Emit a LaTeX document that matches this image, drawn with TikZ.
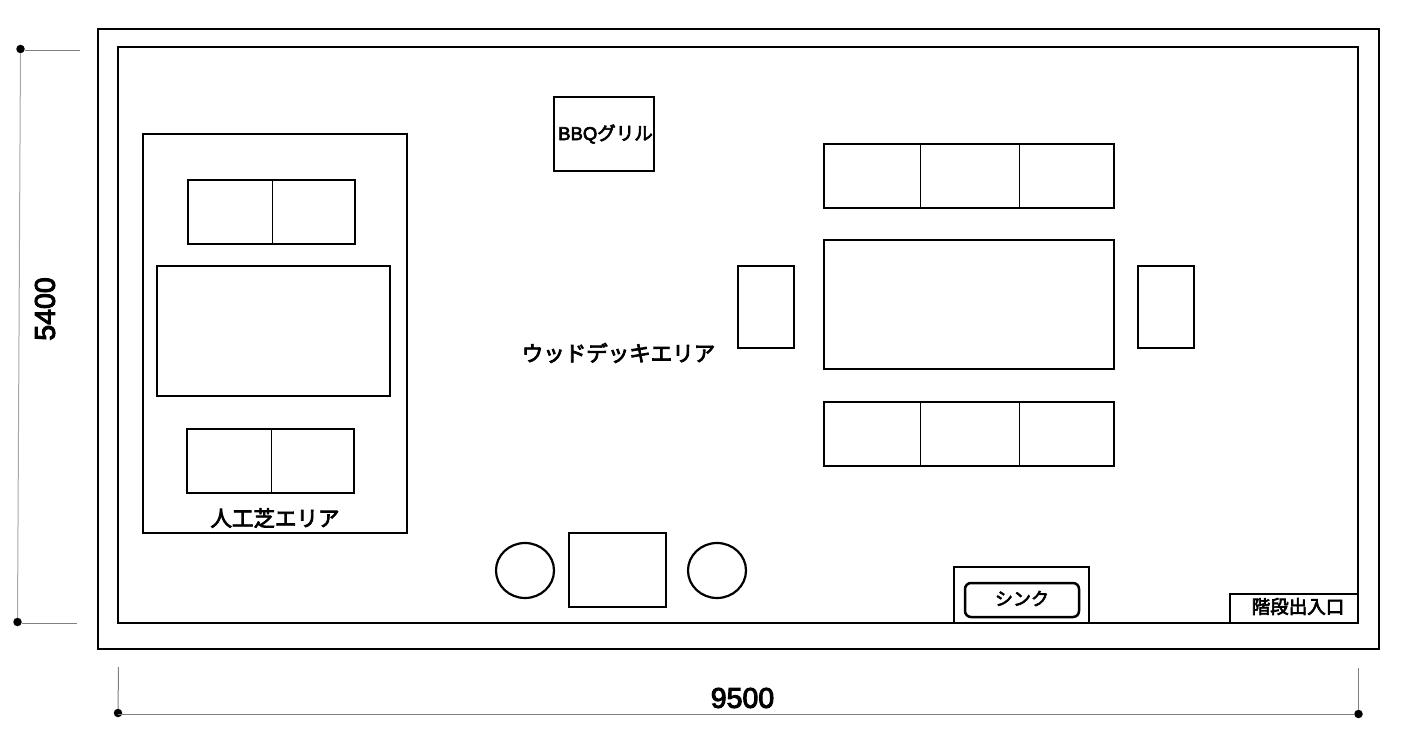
\documentclass[tikz,border=0pt]{standalone}
\usepackage{fontspec}
\usetikzlibrary{shapes.geometric}
\setmainfont{Liberation Sans}
\newfontfamily\cjk[FakeBold=3.5]{Noto Sans CJK JP}
\newfontfamily\lat[FakeBold=3.5]{Liberation Sans}
\tikzset{
  x=1pt,y=-1pt,
  plan/.style={draw=black,line width=2.5pt,fill=white,inner sep=0pt,outer sep=0pt,anchor=north west},
  thin line/.style={draw=black,line width=1pt},
  dimline/.style={draw=black!50,line width=1pt},
  dot/.style={circle,fill=black,inner sep=0pt,minimum size=8.5pt,outer sep=0pt},
  stool/.style={draw=black,line width=2.2pt,ellipse,minimum width=58pt,minimum height=55pt,inner sep=0pt,outer sep=0pt},
  jp/.style={font=\cjk\fontsize{#1}{#1}\selectfont,inner sep=0pt},
  dimtext/.style={font=\lat\fontsize{28.5}{28.5}\selectfont,inner sep=0pt}
}
\newcommand{\rbox}[6][]{\node[plan,#1,minimum width=#4pt-#2pt,minimum height=#5pt-#3pt] (#6) at (#2,#3) {};}
\begin{document}
\begin{tikzpicture}
\useasboundingbox (0,0) rectangle (1402,746);
\rbox{98}{29}{1379}{649}{outer}
\rbox{118}{47}{1358}{623}{inner}
% lawn area
\rbox{143}{134}{407}{533}{lawn}
\rbox{188}{180}{355}{244}{benchA}
\coordinate (a1) at (272.5,180); \coordinate (a2) at (272.5,244);
\draw[thin line] (a1) -- (a2);
\rbox{157}{266}{390}{396}{tableA}
\rbox{187}{429}{354}{493}{benchB}
\coordinate (b1) at (271.5,429); \coordinate (b2) at (271.5,493);
\draw[thin line] (b1) -- (b2);
\node[jp=21.5] (lawnlabel) at (275,518) {人工芝エリア};
% grill
\rbox{554}{97}{654}{171}{grill}
\node[jp=18.5] (grilllabel) at (605.5,134) {{\lat BBQ}グリル};
% deck
\node[jp=21.5] (decklabel) at (618.5,353) {ウッドデッキエリア};
% dining
\rbox{824}{144}{1114}{208}{benchC}
\foreach \n/\x in {c1/920.5,c2/1019.5}{
  \coordinate (\n t) at (\x,144); \coordinate (\n b) at (\x,208);
  \draw[thin line] (\n t) -- (\n b);}
\rbox{824}{240}{1114}{369}{tableB}
\rbox{824}{402}{1114}{466}{benchD}
\foreach \n/\x in {d1/920.5,d2/1019.5}{
  \coordinate (\n t) at (\x,402); \coordinate (\n b) at (\x,466);
  \draw[thin line] (\n t) -- (\n b);}
\rbox{738}{266}{794}{348}{chairL}
\rbox{1138}{266}{1194}{348}{chairR}
% bottom table and stools
\rbox{569}{533}{666}{607}{tableC}
\node[stool] (stoolL) at (525,570.5) {};
\node[stool] (stoolR) at (717,570.5) {};
% sink
\rbox{954}{567}{1089}{623}{sinkbox}
\rbox[rounded corners=6pt]{965}{583}{1079}{617}{sink}
\node[jp=18] (sinklabel) at (1022,598.5) {シンク};
% stairs
\rbox{1230}{594}{1358}{623}{stairs}
\node[jp=18.5] (stairlabel) at (1298,606.5) {階段出入口};
% dimensions
\node[dot] (dtl) at (20.5,49) {};
\node[dot] (dbl) at (17.5,622) {};
\coordinate (dtr) at (80,50.5);
\coordinate (dbr) at (77,623.5);
\draw[dimline] (dtl.east |- dtr) -- (dtr);
\draw[dimline] (dbl.east |- dbr) -- (dbr);
\draw[dimline,black!35] (dtl) -- (dbl);
\node[dimtext,rotate=90] (hlabel) at (45,309) {5400};
\node[dot] (dbL) at (118,713) {};
\node[dot] (dbR) at (1358.5,714) {};
\coordinate (dtL) at (118.5,667);
\coordinate (dtR) at (1358.5,668);
\draw[dimline] (dbL) -- (dtL);
\draw[dimline] (dbR) -- (dtR);
\coordinate (dhL) at (118,714.5);
\draw[dimline] (dhL) -- (dbR.west |- dhL);
\node[dimtext] (wlabel) at (742.5,698) {9500};
\end{tikzpicture}
\end{document}
